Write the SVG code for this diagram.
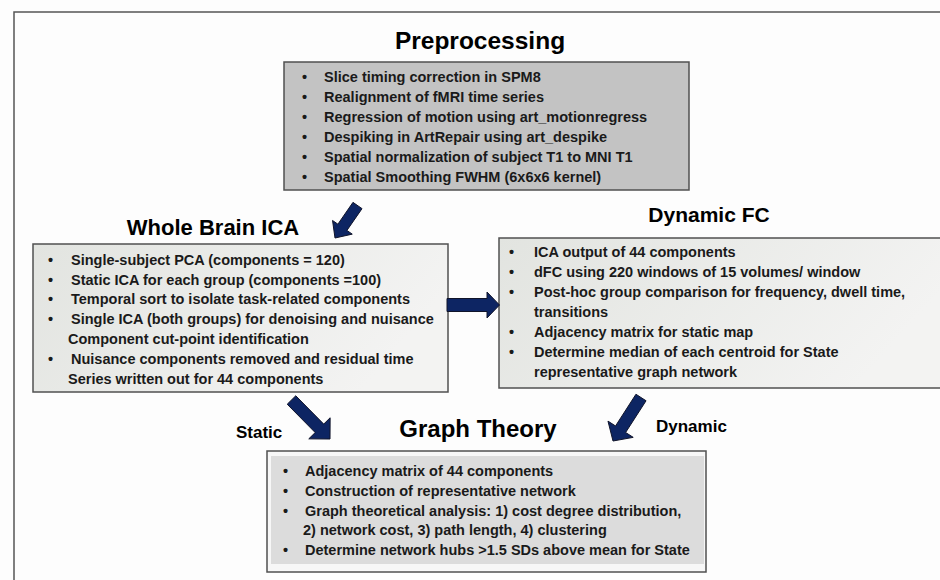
<svg xmlns="http://www.w3.org/2000/svg" width="940" height="580" viewBox="0 0 940 580">
<defs>
<linearGradient id="lg" x1="0" y1="0" x2="1" y2="0.3">
<stop offset="0" stop-color="#e2e4e0"/>
<stop offset="1" stop-color="#f3f3f2"/>
</linearGradient>
<style>
.title{font-family:"Liberation Sans",Arial,sans-serif;font-weight:bold;fill:#000;text-anchor:middle}
.body{font-family:"Liberation Sans",Arial,sans-serif;font-weight:bold;font-size:14.5px;fill:#1a1a1a}
.lab{font-family:"Liberation Sans",Arial,sans-serif;font-weight:bold;font-size:17px;fill:#000}
.box{stroke:#505050;stroke-width:1.5}
.arrow{fill:#0d2563;stroke:#10142a;stroke-width:1;stroke-linejoin:miter}
</style>
</defs>
<rect x="0" y="0" width="940" height="580" fill="#fdfdfd"/>
<rect x="14" y="12" width="940" height="600" fill="none" stroke="#555" stroke-width="1.5"/>

<g id="preprocessing">
<text class="title" x="480" y="49" font-size="24.5">Preprocessing</text>
<rect class="box" x="284" y="62" width="405" height="128" fill="#c3c3c3"/>
<g class="body">
<text x="302" y="82">•</text><text x="324" y="82">Slice timing correction in SPM8</text>
<text x="302" y="102">•</text><text x="324" y="102">Realignment of fMRI time series</text>
<text x="302" y="122">•</text><text x="324" y="122">Regression of motion using art_motionregress</text>
<text x="302" y="142">•</text><text x="324" y="142">Despiking in ArtRepair using art_despike</text>
<text x="302" y="162">•</text><text x="324" y="162">Spatial normalization of subject T1 to MNI T1</text>
<text x="302" y="182">•</text><text x="324" y="182">Spatial Smoothing FWHM (6x6x6 kernel)</text>
</g>
</g>

<g id="whole-brain-ica">
<text class="title" x="213" y="235" font-size="22">Whole Brain ICA</text>
<rect class="box" x="33" y="244" width="415" height="148" fill="url(#lg)"/>
<g class="body">
<text x="48" y="265">•</text><text x="71" y="265">Single-subject PCA (components = 120)</text>
<text x="48" y="285">•</text><text x="71" y="285">Static ICA for each group (components =100)</text>
<text x="48" y="304">•</text><text x="71" y="304">Temporal sort to isolate task-related components</text>
<text x="48" y="324">•</text><text x="71" y="324">Single ICA (both groups) for denoising and nuisance</text>
<text x="68" y="344">Component cut-point identification</text>
<text x="48" y="364">•</text><text x="71" y="364">Nuisance components removed and residual time</text>
<text x="68" y="384">Series written out for 44 components</text>
</g>
</g>

<g id="dynamic-fc">
<text class="title" x="709" y="222" font-size="21">Dynamic FC</text>
<rect class="box" x="499" y="238" width="450" height="150" fill="url(#lg)"/>
<g class="body">
<text x="509" y="257">•</text><text x="534" y="257">ICA output of 44 components</text>
<text x="509" y="277">•</text><text x="534" y="277">dFC using 220 windows of 15 volumes/ window</text>
<text x="509" y="297">•</text><text x="534" y="297">Post-hoc group comparison for frequency, dwell time,</text>
<text x="534" y="317">transitions</text>
<text x="509" y="337">•</text><text x="534" y="337">Adjacency matrix for static map</text>
<text x="509" y="357">•</text><text x="534" y="357">Determine median of each centroid for State</text>
<text x="534" y="377">representative graph network</text>
</g>
</g>

<g id="graph-theory">
<text class="title" x="478" y="437" font-size="24">Graph Theory</text>
<rect class="box" x="267" y="451" width="439" height="121" fill="#f7f7f7"/>
<rect x="271" y="456" width="433" height="108" fill="#dcdcdc"/>
<g class="body">
<text x="283" y="476">•</text><text x="305" y="476">Adjacency matrix of 44 components</text>
<text x="283" y="496">•</text><text x="305" y="496">Construction of representative network</text>
<text x="283" y="516">•</text><text x="305" y="516">Graph theoretical analysis: 1) cost degree distribution,</text>
<text x="303" y="535">2) network cost, 3) path length, 4) clustering</text>
<text x="283" y="555">•</text><text x="305" y="555">Determine network hubs &gt;1.5 SDs above mean for State</text>
</g>
</g>

<g id="connectors">
<polygon class="arrow" points="362.02,208.63 346.92,230.44 352.26,234.14 335,238 332.54,220.48 337.88,224.18 352.98,202.37"/>
<polygon class="arrow" points="447,298.5 487,298.5 487,292 499.5,305 487,318 487,311.5 447,311.5"/>
<polygon class="arrow" points="295.77,395.78 323.73,424.10 330.14,417.78 330,439 308.78,438.86 315.19,432.54 287.23,404.22"/>
<polygon class="arrow" points="646.05,400.75 625.63,432.48 633.19,437.35 613,441 607.97,421.11 615.53,425.98 635.95,394.25"/>
<text class="lab" x="236" y="438">Static</text>
<text class="lab" x="656" y="432">Dynamic</text>
</g>
</svg>
